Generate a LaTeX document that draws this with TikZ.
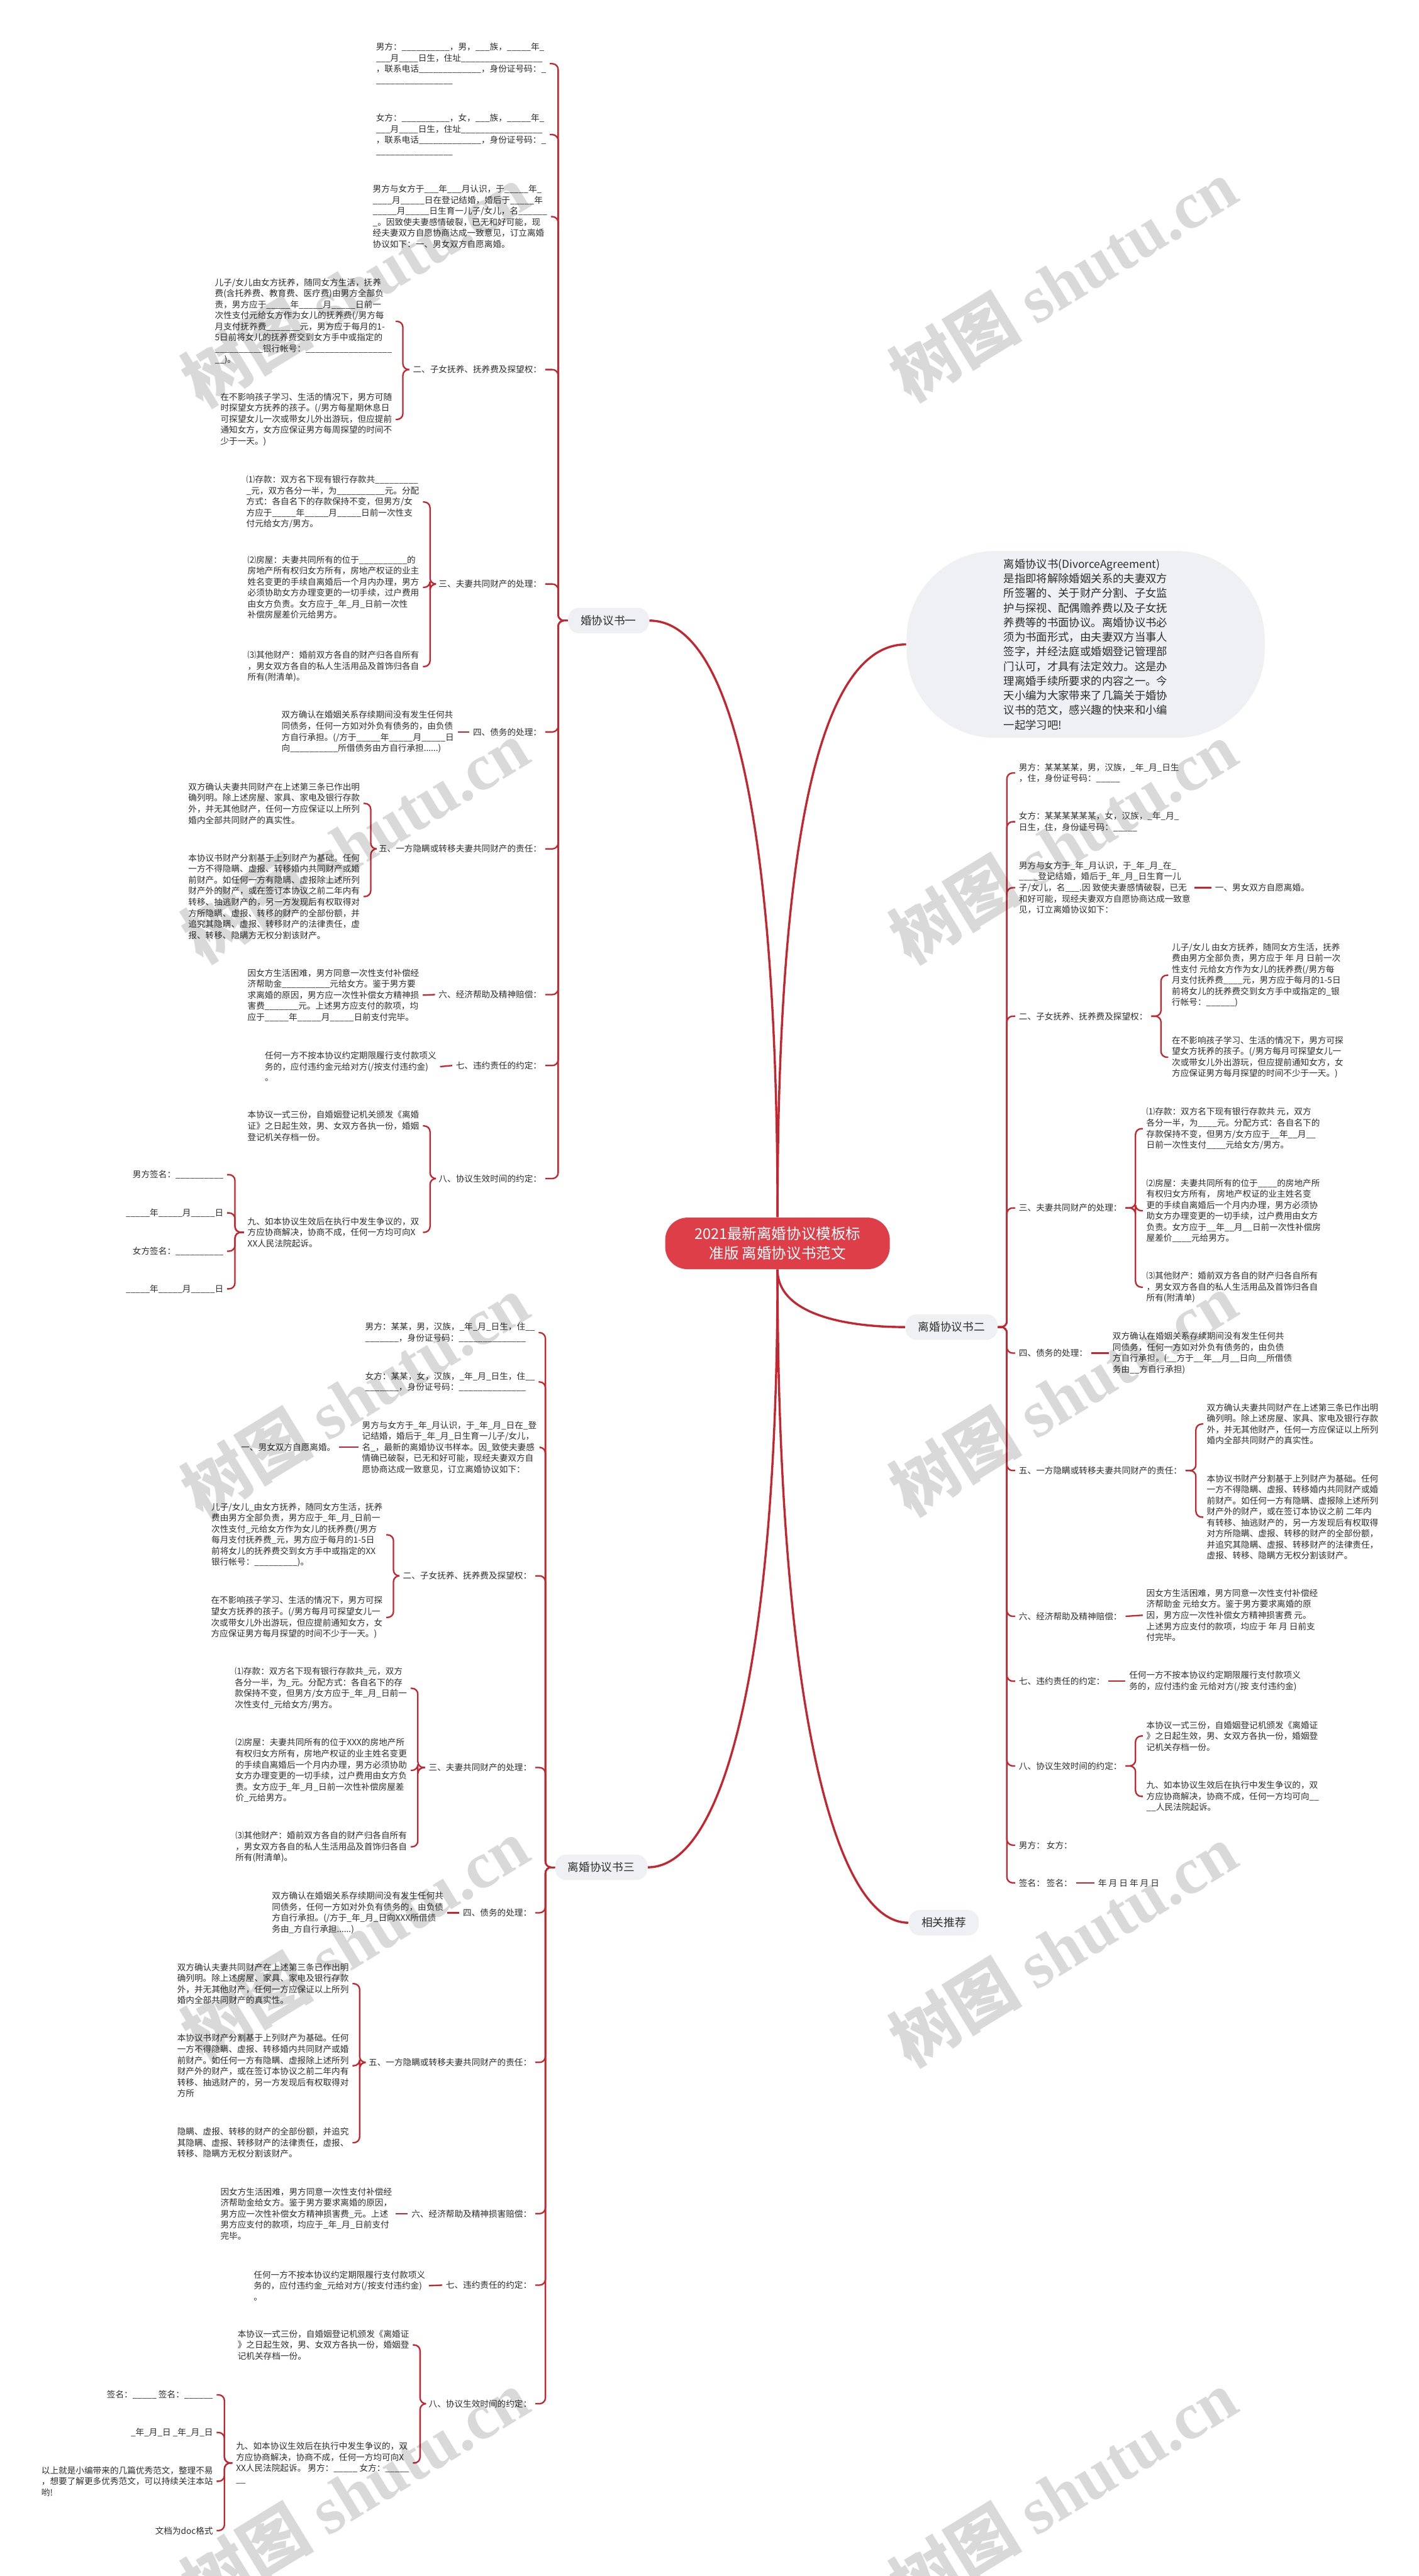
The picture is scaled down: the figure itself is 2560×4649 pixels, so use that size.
\documentclass[tikz,border=0pt]{standalone}
\usepackage{fontspec}
\setmainfont{Noto Sans CJK SC}
\newfontfamily\wmlat{Liberation Serif}
\usetikzlibrary{calc}

\definecolor{lred}{RGB}{196,38,48}
\definecolor{rootred}{RGB}{222,62,72}
\definecolor{bgray}{RGB}{238,240,243}
\definecolor{txt}{RGB}{45,45,45}

\newcommand\leaffont{\fontsize{4.4pt}{5.66pt}\selectfont}
\newcommand\branchfont{\fontsize{5.7pt}{7pt}\selectfont}
\newcommand\rootfont{\fontsize{7.6pt}{10pt}\selectfont}
\newcommand\bubfont{\fontsize{5.6pt}{7.5pt}\selectfont}
\newcommand\wmfont{\fontsize{34pt}{40pt}\selectfont\bfseries}

\tikzset{
  leaf/.style={font=\leaffont, text=txt, align=left, inner sep=1.7pt},
  lab/.style={font=\leaffont, text=txt, inner sep=1.7pt},
  branchbox/.style={fill=bgray, rounded corners=0.2cm, font=\branchfont, text=txt,
    inner xsep=0.23cm, inner ysep=0pt, minimum height=0.46cm},
  rootbox/.style={fill=rootred, rounded corners=0.4cm, font=\rootfont, text=white,
    align=center, minimum width=4.05cm, minimum height=0.93cm},
  bubblebox/.style={fill=bgray, rounded corners=1.6cm, font=\bubfont, text=txt,
    align=left, minimum width=6.46cm, minimum height=3.37cm},
  link/.style={draw=lred, line width=0.75pt, rounded corners=3pt},
  trunk/.style={draw=lred, line width=1.1pt},
  wmark/.style={text=black, opacity=0.15, rotate=31.5, font=\wmfont}
}

\begin{document}
\catcode`\_=12
\begin{tikzpicture}[x=0.01cm, y=-0.01cm]
  % canvas
  \fill[white] (0,0) rectangle (2560,4649);
  \useasboundingbox (0,0) rectangle (2560,4649);

  % centre, summary and main branches
  \node (root) [rootbox] at (1403,2244) {2021最新离婚协议模板标\\准版 离婚协议书范文};
  \node (bub) [bubblebox] at (1959,1163) {离婚协议书(DivorceAgreement)\\是指即将解除婚姻关系的夫妻双方\\所签署的、关于财产分割、子女监\\护与探视、配偶赡养费以及子女抚\\养费等的书面协议。离婚协议书必\\须为书面形式，由夫妻双方当事人\\签字，并经法庭或婚姻登记管理部\\门认可，才具有法定效力。这是办\\理离婚手续所要求的内容之一。今\\天小编为大家带来了几篇关于婚协\\议书的范文，感兴趣的快来和小编\\一起学习吧!};
  \node (b1) [branchbox] at (1098,1120) {婚协议书一};
  \node (b2) [branchbox] at (1717,2395) {离婚协议书二};
  \node (b3) [branchbox] at (1085,3370) {离婚协议书三};
  \node (rel) [branchbox] at (1703,3470) {相关推荐};

  \draw[trunk] (root.north) .. controls +(0,-750) and +(140,0) .. (b1.east);
  \draw[trunk] (root.north) .. controls +(0,-750) and +(-140,0) .. (bub.west);
  \draw[trunk] (root.south) .. controls +(0,80) and +(-110,0) .. (b2.west);
  \draw[trunk] (root.south) .. controls +(0,700) and +(140,0) .. (b3.east);
  \draw[trunk] (root.south) .. controls +(0,750) and +(-140,0) .. (rel.west);

  % ---------- branch one (left, top) ----------
  \node (b1c1) [leaf, anchor=east] at (992,115) {男方：__________，男，___族，_____年_\\___月____日生，住址_________________\\，联系电话_____________，身份证号码：_\\________________};
  \node (b1c2) [leaf, anchor=east] at (992,243) {女方：__________，女，___族，_____年_\\___月____日生，住址_________________\\，联系电话_____________，身份证号码：_\\________________};
  \node (b1c3) [leaf, anchor=east] at (994,391) {男方与女方于___年___月认识，于_____年_\\____月_____日在登记结婚，婚后于_____年\\_____月_____日生育一儿子/女儿，名______\\_。因致使夫妻感情破裂，已无和好可能，现\\经夫妻双方自愿协商达成一致意见，订立离婚\\协议如下：一、男女双方自愿离婚。};
  \node (b1c4) [lab, anchor=east] at (984,667) {二、子女抚养、抚养费及探望权：};
  \node (b1c4a) [leaf, anchor=east] at (714,580) {儿子/女儿由女方抚养，随同女方生活，抚养\\费(含托养费、教育费、医疗费)由男方全部负\\责，男方应于_____年_____月_____日前一\\次性支付元给女方作为女儿的抚养费(/男方每\\月支付抚养费_______元，男方应于每月的1-\\5日前将女儿的抚养费交到女方手中或指定的\\__________银行帐号：__________________\\__)。};
  \node (b1c4b) [leaf, anchor=east] at (714,757) {在不影响孩子学习、生活的情况下，男方可随\\时探望女方抚养的孩子。(/男方每星期休息日\\可探望女儿一次或带女儿外出游玩，但应提前\\通知女方，女方应保证男方每周探望的时间不\\少于一天。)};
  \node (b1c5) [lab, anchor=east] at (984,1054) {三、夫妻共同财产的处理：};
  \node (b1c5a) [leaf, anchor=east] at (763,906) {⑴存款：双方名下现有银行存款共_________\\_元，双方各分一半，为__________元。分配\\方式：各自名下的存款保持不变，但男方/女\\方应于_____年_____月_____日前一次性支\\付元给女方/男方。};
  \node (b1c5b) [leaf, anchor=east] at (763,1060) {⑵房屋：夫妻共同所有的位于__________的\\房地产所有权归女方所有，房地产权证的业主\\姓名变更的手续自离婚后一个月内办理，男方\\必须协助女方办理变更的一切手续，过户费用\\由女方负责。女方应于_年_月_日前一次性\\补偿房屋差价元给男方。};
  \node (b1c5c) [leaf, anchor=east] at (763,1203) {⑶其他财产：婚前双方各自的财产归各自所有\\，男女双方各自的私人生活用品及首饰归各自\\所有(附清单)。};
  \node (b1c6) [lab, anchor=east] at (984,1321) {四、债务的处理：};
  \node (b1c6a) [leaf, anchor=east] at (826,1321) {双方确认在婚姻关系存续期间没有发生任何共\\同债务，任何一方如对外负有债务的，由负债\\方自行承担。(/方于_____年_____月_____日\\向__________所借债务由方自行承担......)};
  \node (b1c7) [lab, anchor=east] at (984,1532) {五、一方隐瞒或转移夫妻共同财产的责任：};
  \node (b1c7a) [leaf, anchor=east] at (656,1450) {双方确认夫妻共同财产在上述第三条已作出明\\确列明。除上述房屋、家具、家电及银行存款\\外，并无其他财产，任何一方应保证以上所列\\婚内全部共同财产的真实性。};
  \node (b1c7b) [leaf, anchor=east] at (656,1618) {本协议书财产分割基于上列财产为基础。任何\\一方不得隐瞒、虚报、转移婚内共同财产或婚\\前财产。如任何一方有隐瞒、虚报除上述所列\\财产外的财产，或在签订本协议之前二年内有\\转移、抽逃财产的，另一方发现后有权取得对\\方所隐瞒、虚报、转移的财产的全部份额，并\\追究其隐瞒、虚报、转移财产的法律责任，虚\\报、转移、隐瞒方无权分割该财产。};
  \node (b1c8) [lab, anchor=east] at (984,1795) {六、经济帮助及精神赔偿：};
  \node (b1c8a) [leaf, anchor=east] at (763,1796) {因女方生活困难，男方同意一次性支付补偿经\\济帮助金__________元给女方。鉴于男方要\\求离婚的原因，男方应一次性补偿女方精神损\\害费_______元。上述男方应支付的款项，均\\应于_____年_____月_____日前支付完毕。};
  \node (b1c9) [lab, anchor=east] at (984,1923) {七、违约责任的约定：};
  \node (b1c9a) [leaf, anchor=east] at (794,1925) {任何一方不按本协议约定期限履行支付款项义\\务的，应付违约金元给对方(/按支付违约金)\\。};
  \node (b1c10) [lab, anchor=east] at (984,2127) {八、协议生效时间的约定：};
  \node (b1c10a) [leaf, anchor=east] at (763,2032) {本协议一式三份，自婚姻登记机关颁发《离婚\\证》之日起生效，男、女双方各执一份，婚姻\\登记机关存档一份。};
  \node (b1c10b) [leaf, anchor=east] at (763,2224) {九、如本协议生效后在执行中发生争议的，双\\方应协商解决，协商不成，任何一方均可向X\\XX人民法院起诉。};
  \node (b1s1) [lab, anchor=east] at (410,2120) {男方签名：__________};
  \node (b1s2) [lab, anchor=east] at (410,2189) {_____年_____月_____日};
  \node (b1s3) [lab, anchor=east] at (410,2258) {女方签名：__________};
  \node (b1s4) [lab, anchor=east] at (410,2326) {_____年_____月_____日};

  \draw[link] (b1.west) -- ++(-17,0) |- (b1c1.east);
  \draw[link] (b1.west) -- ++(-17,0) |- (b1c2.east);
  \draw[link] (b1.west) -- ++(-17,0) |- (b1c3.east);
  \draw[link] (b1.west) -- ++(-17,0) |- (b1c4.east);
  \draw[link] (b1.west) -- ++(-17,0) |- (b1c5.east);
  \draw[link] (b1.west) -- ++(-17,0) |- (b1c6.east);
  \draw[link] (b1.west) -- ++(-17,0) |- (b1c7.east);
  \draw[link] (b1.west) -- ++(-17,0) |- (b1c8.east);
  \draw[link] (b1.west) -- ++(-17,0) |- (b1c9.east);
  \draw[link] (b1.west) -- ++(-17,0) |- (b1c10.east);
  \draw[link] (b1c4.west) -| ($(b1c4a.east)+(13,0)$) -- (b1c4a.east);
  \draw[link] (b1c4.west) -| ($(b1c4b.east)+(13,0)$) -- (b1c4b.east);
  \draw[link] (b1c5.west) -| ($(b1c5a.east)+(13,0)$) -- (b1c5a.east);
  \draw[link] (b1c5.west) -| ($(b1c5b.east)+(13,0)$) -- (b1c5b.east);
  \draw[link] (b1c5.west) -| ($(b1c5c.east)+(13,0)$) -- (b1c5c.east);
  \draw[link] (b1c6.west) -- (b1c6a.east);
  \draw[link] (b1c7.west) -| ($(b1c7a.east)+(13,0)$) -- (b1c7a.east);
  \draw[link] (b1c7.west) -| ($(b1c7b.east)+(13,0)$) -- (b1c7b.east);
  \draw[link] (b1c8.west) -- (b1c8a.east);
  \draw[link] (b1c9.west) -- (b1c9a.east);
  \draw[link] (b1c10.west) -| ($(b1c10a.east)+(13,0)$) -- (b1c10a.east);
  \draw[link] (b1c10.west) -| ($(b1c10b.east)+(13,0)$) -- (b1c10b.east);
  \draw[link] (b1c10b.west) -| ($(b1s1.east)+(14,0)$) -- (b1s1.east);
  \draw[link] (b1c10b.west) -| ($(b1s2.east)+(14,0)$) -- (b1s2.east);
  \draw[link] (b1c10b.west) -| ($(b1s3.east)+(14,0)$) -- (b1s3.east);
  \draw[link] (b1c10b.west) -| ($(b1s4.east)+(14,0)$) -- (b1s4.east);

  % ---------- branch two (right) ----------
  \node (b2c1) [leaf, anchor=west] at (1832,1395) {男方：某某某某，男，汉族，_年_月_日生\\，住，身份证号码：_____};
  \node (b2c2) [leaf, anchor=west] at (1832,1483) {女方：某某某某某某，女，汉族，_年_月_\\日生，住，身份证号码：_____};
  \node (b2c3) [leaf, anchor=west] at (1832,1602) {男方与女方于_年_月认识，于_年_月_在_\\____登记结婚，婚后于_年_月_日生育一儿\\子/女儿，名___.因 致使夫妻感情破裂，已无\\和好可能，现经夫妻双方自愿协商达成一致意\\见，订立离婚协议如下：};
  \node (b2c3a) [lab, anchor=west] at (2186,1602) {一、男女双方自愿离婚。};
  \node (b2c4) [lab, anchor=west] at (1832,1834) {二、子女抚养、抚养费及探望权：};
  \node (b2c4a) [leaf, anchor=west] at (2108,1760) {儿子/女儿 由女方抚养，随同女方生活，抚养\\费由男方全部负责，男方应于 年 月 日前一次\\性支付 元给女方作为女儿的抚养费(/男方每\\月支付抚养费____元，男方应于每月的1-5日\\前将女儿的抚养费交到女方手中或指定的_银\\行帐号：______)};
  \node (b2c4b) [leaf, anchor=west] at (2108,1908) {在不影响孩子学习、生活的情况下，男方可探\\望女方抚养的孩子。(/男方每月可探望女儿一\\次或带女儿外出游玩，但应提前通知女方，女\\方应保证男方每月探望的时间不少于一天。)};
  \node (b2c5) [lab, anchor=west] at (1832,2180) {三、夫妻共同财产的处理：};
  \node (b2c5a) [leaf, anchor=west] at (2062,2037) {⑴存款：双方名下现有银行存款共 元，双方\\各分一半，为____元。分配方式：各自名下的\\存款保持不变，但男方/女方应于__年__月__\\日前一次性支付____元给女方/男方。};
  \node (b2c5b) [leaf, anchor=west] at (2062,2185) {⑵房屋：夫妻共同所有的位于____的房地产所\\有权归女方所有， 房地产权证的业主姓名变\\更的手续自离婚后一个月内办理，男方必须协\\助女方办理变更的一切手续，过户费用由女方\\负责。女方应于__年__月__日前一次性补偿房\\屋差价____元给男方。};
  \node (b2c5c) [leaf, anchor=west] at (2062,2323) {⑶其他财产：婚前双方各自的财产归各自所有\\，男女双方各自的私人生活用品及首饰归各自\\所有(附清单)};
  \node (b2c6) [lab, anchor=west] at (1832,2442) {四、债务的处理：};
  \node (b2c6a) [leaf, anchor=west] at (2001,2442) {双方确认在婚姻关系存续期间没有发生任何共\\同债务，任何一方如对外负有债务的，由负债\\方自行承担。(__方于__年__月__日向__所借债\\务由__方自行承担)};
  \node (b2c7) [lab, anchor=west] at (1832,2654) {五、一方隐瞒或转移夫妻共同财产的责任：};
  \node (b2c7a) [leaf, anchor=west] at (2171,2570) {双方确认夫妻共同财产在上述第三条已作出明\\确列明。除上述房屋、家具、家电及银行存款\\外，并无其他财产，任何一方应保证以上所列\\婚内全部共同财产的真实性。};
  \node (b2c7b) [leaf, anchor=west] at (2171,2738) {本协议书财产分割基于上列财产为基础。任何\\一方不得隐瞒、虚报、转移婚内共同财产或婚\\前财产。如任何一方有隐瞒、虚报除上述所列\\财产外的财产，或在签订本协议之前 二年内\\有转移、抽逃财产的，另一方发现后有权取得\\对方所隐瞒、虚报、转移的财产的全部份额，\\并追究其隐瞒、虚报、转移财产的法律责任，\\虚报、转移、隐瞒方无权分割该财产。};
  \node (b2c8) [lab, anchor=west] at (1832,2917) {六、经济帮助及精神赔偿：};
  \node (b2c8a) [leaf, anchor=west] at (2062,2915) {因女方生活困难，男方同意一次性支付补偿经\\济帮助金 元给女方。鉴于男方要求离婚的原\\因，男方应一次性补偿女方精神损害费 元。\\上述男方应支付的款项，均应于 年 月 日前支\\付完毕。};
  \node (b2c9) [lab, anchor=west] at (1832,3034) {七、违约责任的约定：};
  \node (b2c9a) [leaf, anchor=west] at (2031,3034) {任何一方不按本协议约定期限履行支付款项义\\务的，应付违约金 元给对方(/按 支付违约金)};
  \node (b2c10) [lab, anchor=west] at (1832,3187) {八、协议生效时间的约定：};
  \node (b2c10a) [leaf, anchor=west] at (2062,3133) {本协议一式三份，自婚姻登记机颁发《离婚证\\》之日起生效，男、女双方各执一份，婚姻登\\记机关存档一份。};
  \node (b2c10b) [leaf, anchor=west] at (2062,3242) {九、如本协议生效后在执行中发生争议的，双\\方应协商解决，协商不成，任何一方均可向__\\__人民法院起诉。};
  \node (b2c11) [lab, anchor=west] at (1832,3330) {男方：\ 女方：};
  \node (b2c12) [lab, anchor=west] at (1832,3398) {签名：\ 签名：};
  \node (b2c12a) [lab, anchor=west] at (1975,3398) {年 月 日 年 月 日};

  \draw[link] (b2.east) -- ++(16,0) |- (b2c1.west);
  \draw[link] (b2.east) -- ++(16,0) |- (b2c2.west);
  \draw[link] (b2.east) -- ++(16,0) |- (b2c3.west);
  \draw[link] (b2.east) -- ++(16,0) |- (b2c4.west);
  \draw[link] (b2.east) -- ++(16,0) |- (b2c5.west);
  \draw[link] (b2.east) -- ++(16,0) |- (b2c6.west);
  \draw[link] (b2.east) -- ++(16,0) |- (b2c7.west);
  \draw[link] (b2.east) -- ++(16,0) |- (b2c8.west);
  \draw[link] (b2.east) -- ++(16,0) |- (b2c9.west);
  \draw[link] (b2.east) -- ++(16,0) |- (b2c10.west);
  \draw[link] (b2.east) -- ++(16,0) |- (b2c11.west);
  \draw[link] (b2.east) -- ++(16,0) |- (b2c12.west);
  \draw[link] (b2c3.east) -- (b2c3a.west);
  \draw[link] (b2c4.east) -| ($(b2c4a.west)+(-13,0)$) -- (b2c4a.west);
  \draw[link] (b2c4.east) -| ($(b2c4b.west)+(-13,0)$) -- (b2c4b.west);
  \draw[link] (b2c5.east) -| ($(b2c5a.west)+(-13,0)$) -- (b2c5a.west);
  \draw[link] (b2c5.east) -| ($(b2c5b.west)+(-13,0)$) -- (b2c5b.west);
  \draw[link] (b2c5.east) -| ($(b2c5c.west)+(-13,0)$) -- (b2c5c.west);
  \draw[link] (b2c6.east) -- (b2c6a.west);
  \draw[link] (b2c7.east) -| ($(b2c7a.west)+(-13,0)$) -- (b2c7a.west);
  \draw[link] (b2c7.east) -| ($(b2c7b.west)+(-13,0)$) -- (b2c7b.west);
  \draw[link] (b2c8.east) -- (b2c8a.west);
  \draw[link] (b2c9.east) -- (b2c9a.west);
  \draw[link] (b2c10.east) -| ($(b2c10a.west)+(-13,0)$) -- (b2c10a.west);
  \draw[link] (b2c10.east) -| ($(b2c10b.west)+(-13,0)$) -- (b2c10b.west);
  \draw[link] (b2c12.east) -- (b2c12a.west);

  % ---------- branch three (left, bottom) ----------
  \node (b3c1) [leaf, anchor=east] at (972,2405) {男方：某某，男，汉族，_年_月_日生，住__\\_______，身份证号码：______________};
  \node (b3c2) [leaf, anchor=east] at (972,2494) {女方：某某，女，汉族，_年_月_日生，住__\\_______，身份证号码：______________};
  \node (b3c3) [leaf, anchor=east] at (975,2612) {男方与女方于_年_月认识，于_年_月_日在_登\\记结婚，婚后于_年_月_日生育一儿子/女儿，\\名_，最新的离婚协议书样本。因_致使夫妻感\\情确已破裂，已无和好可能，现经夫妻双方自\\愿协商达成一致意见，订立离婚协议如下：};
  \node (b3c3a) [lab, anchor=east] at (612,2612) {一、男女双方自愿离婚。};
  \node (b3c4) [lab, anchor=east] at (966,2844) {二、子女抚养、抚养费及探望权：};
  \node (b3c4a) [leaf, anchor=east] at (697,2770) {儿子/女儿_由女方抚养，随同女方生活，抚养\\费由男方全部负责，男方应于_年_月_日前一\\次性支付_元给女方作为女儿的抚养费(/男方\\每月支付抚养费_元，男方应于每月的1-5日\\前将女儿的抚养费交到女方手中或指定的XX\\银行帐号：_________)。};
  \node (b3c4b) [leaf, anchor=east] at (697,2919) {在不影响孩子学习、生活的情况下，男方可探\\望女方抚养的孩子。(/男方每月可探望女儿一\\次或带女儿外出游玩，但应提前通知女方，女\\方应保证男方每月探望的时间不少于一天。)};
  \node (b3c5) [lab, anchor=east] at (966,3190) {三、夫妻共同财产的处理：};
  \node (b3c5a) [leaf, anchor=east] at (741,3047) {⑴存款：双方名下现有银行存款共_元，双方\\各分一半，为_元。分配方式：各自名下的存\\款保持不变，但男方/女方应于_年_月_日前一\\次性支付_元给女方/男方。};
  \node (b3c5b) [leaf, anchor=east] at (741,3195) {⑵房屋：夫妻共同所有的位于XXX的房地产所\\有权归女方所有，房地产权证的业主姓名变更\\的手续自离婚后一个月内办理，男方必须协助\\女方办理变更的一切手续，过户费用由女方负\\责。女方应于_年_月_日前一次性补偿房屋差\\价_元给男方。};
  \node (b3c5c) [leaf, anchor=east] at (741,3333) {⑶其他财产：婚前双方各自的财产归各自所有\\，男女双方各自的私人生活用品及首饰归各自\\所有(附清单)。};
  \node (b3c6) [lab, anchor=east] at (966,3452) {四、债务的处理：};
  \node (b3c6a) [leaf, anchor=east] at (807,3452) {双方确认在婚姻关系存续期间没有发生任何共\\同债务，任何一方如对外负有债务的，由负债\\方自行承担。(/方于_年_月_日向XXX所借债\\务由_方自行承担......)};
  \node (b3c7) [lab, anchor=east] at (966,3722) {五、一方隐瞒或转移夫妻共同财产的责任：};
  \node (b3c7a) [leaf, anchor=east] at (636,3580) {双方确认夫妻共同财产在上述第三条已作出明\\确列明。除上述房屋、家具、家电及银行存款\\外，并无其他财产，任何一方应保证以上所列\\婚内全部共同财产的真实性。};
  \node (b3c7b) [leaf, anchor=east] at (636,3728) {本协议书财产分割基于上列财产为基础。任何\\一方不得隐瞒、虚报、转移婚内共同财产或婚\\前财产。如任何一方有隐瞒、虚报除上述所列\\财产外的财产，或在签订本协议之前二年内有\\转移、抽逃财产的，另一方发现后有权取得对\\方所};
  \node (b3c7c) [leaf, anchor=east] at (636,3867) {隐瞒、虚报、转移的财产的全部份额，并追究\\其隐瞒、虚报、转移财产的法律责任，虚报、\\转移、隐瞒方无权分割该财产。};
  \node (b3c8) [lab, anchor=east] at (966,3995) {六、经济帮助及精神损害赔偿：};
  \node (b3c8a) [leaf, anchor=east] at (714,3995) {因女方生活困难，男方同意一次性支付补偿经\\济帮助金给女方。鉴于男方要求离婚的原因，\\男方应一次性补偿女方精神损害费_元。上述\\男方应支付的款项，均应于_年_月_日前支付\\完毕。};
  \node (b3c9) [lab, anchor=east] at (966,4124) {七、违约责任的约定：};
  \node (b3c9a) [leaf, anchor=east] at (774,4125) {任何一方不按本协议约定期限履行支付款项义\\务的，应付违约金_元给对方(/按支付违约金)\\。};
  \node (b3c10) [lab, anchor=east] at (966,4338) {八、协议生效时间的约定：};
  \node (b3c10a) [leaf, anchor=east] at (745,4232) {本协议一式三份，自婚姻登记机颁发《离婚证\\》之日起生效，男、女双方各执一份，婚姻登\\记机关存档一份。};
  \node (b3c10b) [leaf, anchor=east] at (745,4445) {九、如本协议生效后在执行中发生争议的，双\\方应协商解决，协商不成，任何一方均可向X\\XX人民法院起诉。 男方：_____ 女方：_____\\__};
  \node (b3s1) [lab, anchor=east] at (391,4322) {签名：_____ 签名：______};
  \node (b3s2) [lab, anchor=east] at (391,4390) {_年_月_日 _年_月_日};
  \node (b3s3) [leaf, anchor=east] at (391,4478) {以上就是小编带来的几篇优秀范文，整理不易\\，想要了解更多优秀范文，可以持续关注本站\\哟!};
  \node (b3s4) [lab, anchor=east] at (391,4567) {文档为doc格式};

  \draw[link] (b3.west) -- ++(-17,0) |- (b3c1.east);
  \draw[link] (b3.west) -- ++(-17,0) |- (b3c2.east);
  \draw[link] (b3.west) -- ++(-17,0) |- (b3c3.east);
  \draw[link] (b3.west) -- ++(-17,0) |- (b3c4.east);
  \draw[link] (b3.west) -- ++(-17,0) |- (b3c5.east);
  \draw[link] (b3.west) -- ++(-17,0) |- (b3c6.east);
  \draw[link] (b3.west) -- ++(-17,0) |- (b3c7.east);
  \draw[link] (b3.west) -- ++(-17,0) |- (b3c8.east);
  \draw[link] (b3.west) -- ++(-17,0) |- (b3c9.east);
  \draw[link] (b3.west) -- ++(-17,0) |- (b3c10.east);
  \draw[link] (b3c3.west) -- (b3c3a.east);
  \draw[link] (b3c4.west) -| ($(b3c4a.east)+(13,0)$) -- (b3c4a.east);
  \draw[link] (b3c4.west) -| ($(b3c4b.east)+(13,0)$) -- (b3c4b.east);
  \draw[link] (b3c5.west) -| ($(b3c5a.east)+(13,0)$) -- (b3c5a.east);
  \draw[link] (b3c5.west) -| ($(b3c5b.east)+(13,0)$) -- (b3c5b.east);
  \draw[link] (b3c5.west) -| ($(b3c5c.east)+(13,0)$) -- (b3c5c.east);
  \draw[link] (b3c6.west) -- (b3c6a.east);
  \draw[link] (b3c7.west) -| ($(b3c7a.east)+(13,0)$) -- (b3c7a.east);
  \draw[link] (b3c7.west) -| ($(b3c7b.east)+(13,0)$) -- (b3c7b.east);
  \draw[link] (b3c7.west) -| ($(b3c7c.east)+(13,0)$) -- (b3c7c.east);
  \draw[link] (b3c8.west) -- (b3c8a.east);
  \draw[link] (b3c9.west) -- (b3c9a.east);
  \draw[link] (b3c10.west) -| ($(b3c10a.east)+(13,0)$) -- (b3c10a.east);
  \draw[link] (b3c10.west) -| ($(b3c10b.east)+(13,0)$) -- (b3c10b.east);
  \draw[link] (b3c10b.west) -| ($(b3s1.east)+(14,0)$) -- (b3s1.east);
  \draw[link] (b3c10b.west) -| ($(b3s2.east)+(14,0)$) -- (b3s2.east);
  \draw[link] (b3c10b.west) -| ($(b3s3.east)+(14,0)$) -- (b3s3.east);
  \draw[link] (b3c10b.west) -| ($(b3s4.east)+(14,0)$) -- (b3s4.east);

  % watermarks
  \node (wm1) [wmark] at (640,515) {树图 {\wmlat shutu.cn}};
  \node (wm2) [wmark] at (1918,505) {树图 {\wmlat shutu.cn}};
  \node (wm3) [wmark] at (640,1518) {树图 {\wmlat shutu.cn}};
  \node (wm4) [wmark] at (1918,1520) {树图 {\wmlat shutu.cn}};
  \node (wm5) [wmark] at (640,2519) {树图 {\wmlat shutu.cn}};
  \node (wm6) [wmark] at (1918,2516) {树图 {\wmlat shutu.cn}};
  \node (wm7) [wmark] at (640,3500) {树图 {\wmlat shutu.cn}};
  \node (wm8) [wmark] at (1918,3510) {树图 {\wmlat shutu.cn}};
  \node (wm9) [wmark] at (640,4495) {树图 {\wmlat shutu.cn}};
  \node (wm10) [wmark] at (1918,4495) {树图 {\wmlat shutu.cn}};
\end{tikzpicture}
\end{document}
